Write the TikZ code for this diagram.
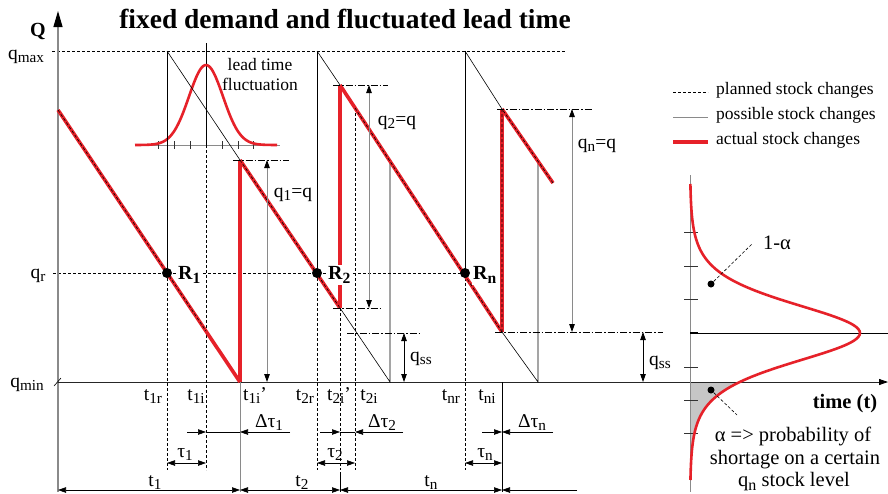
\documentclass[tikz,border=0pt]{standalone}
\usepackage{fontspec}
\setmainfont{Liberation Serif}
\usetikzlibrary{arrows.meta}
\definecolor{myred}{HTML}{E62129}
\definecolor{axgray}{HTML}{8A8A8A}
\newcommand\lo[1]{\raisebox{-0.2em}{\scalebox{0.78}{#1}}}
\begin{document}
\begin{tikzpicture}[x=1pt,y=-1pt,
  lbl/.style={font=\fontsize{19.5}{22}\selectfont, inner sep=0pt},
  sml/.style={font=\fontsize{17.5}{20}\selectfont, inner sep=0pt},
  bigt/.style={font=\fontsize{20.5}{23}\selectfont, inner sep=0pt},
  act/.style={draw=myred, line width=3.6pt},
  pln/.style={draw=black, line width=0.6pt, dash pattern=on 3pt off 2pt},
  thn/.style={draw=black, line width=0.6pt},
  gry/.style={draw=axgray, line width=0.9pt},
  ddot/.style={draw=black, line width=0.6pt, dash pattern=on 7pt off 2pt on 1.5pt off 2pt},
  arr/.style={-{Triangle[length=8pt,width=5.5pt,color=black]}},
  darr/.style={{Triangle[length=8pt,width=5.5pt,color=black]}-{Triangle[length=8pt,width=5.5pt,color=black]}},
  bdot/.style={circle, fill=black, minimum size=10pt, inner sep=0pt},
  sdot/.style={circle, fill=black, minimum size=7pt, inner sep=0pt},
]
\useasboundingbox (0,0) rectangle (888,493);
\fill[white] (0,0) rectangle (888,493);

% title
\node[anchor=base, inner sep=0pt, font=\fontsize{27.5}{30}\selectfont\bfseries] (title) at (345,28) {fixed demand and fluctuated lead time};

% reference lines
\draw[pln] (52,51) -- (565,51);
\draw[pln] (53,273) -- (465,273);

% axes
\draw[gry, line width=1.2pt, -{Triangle[length=16pt,width=9pt,color=black]}] (58,492) -- (58,11);
\draw[draw=black!85, line width=0.8pt, -{Triangle[length=9pt,width=6pt,color=black]}] (58,382) -- (888,382);
\coordinate (O) at (58,382);
\draw[thn] (54,386) -- (61,378);

\node[lbl, font=\fontsize{20}{22}\selectfont\bfseries, anchor=base] (Q) at (38,36) {Q};
\node[lbl, anchor=base] (qmax) at (26,59) {q\lo{max}};
\node[lbl, anchor=base] (qr) at (38,278) {q\lo{r}};
\node[lbl, anchor=base] (qmin) at (27,387) {q\lo{min}};

% lead time fluctuation
\draw[gry] (135,145) -- (280,145);
\foreach \tx in {158,174,190,222,238,253} \draw[black!80, line width=0.6pt] (\tx,141) -- (\tx,149);
\draw[thn] (206,43) -- (206,145);
\draw[myred, line width=2.6pt] plot[domain=135:277, samples=90] (\x, {145-80*exp(-((\x-206)/17)^2/2)});
\node[sml, anchor=base] (lt1) at (260,70) {lead time};
\node[sml, anchor=base] (lt2) at (260,90) {fluctuation};

% possible stock changes (thin)
\draw[thn] (167,51) -- (167,273);
\draw[thn] (167,51) -- (240,160);
\draw[thn] (317,51) -- (317,273);
\draw[thn] (317,51) -- (340,85);
\draw[thn] (340,308) -- (390,382) -- (390,161);
\draw[thn] (465,51) -- (465,273);
\draw[thn] (465,51) -- (502,109);
\draw[thn] (502,332) -- (538,382) -- (538,161);

% planned verticals
\draw[pln] (167,273) -- (167,470);
\draw[pln] (206,145) -- (206,470);
\draw[pln] (317,273) -- (317,470);
\draw[pln] (340,308) -- (340,470);
\draw[pln] (355,108) -- (355,470);
\draw[pln] (465,273) -- (465,470);

% solid verticals below axis
\draw[gry, line width=0.7pt] (240,382) -- (240,492);
\draw[thn] (340,472) -- (340,492);
\draw[thn] (502,382) -- (502,492);

% actual stock changes
\draw[act] (58,110) -- (240,382);
\draw[act] (240,382) -- (240,160);
\draw[act] (240,160) -- (340,308);
\draw[act] (340,308) -- (340,85);
\draw[act] (340,85) -- (502,332);
\draw[act] (502,332) -- (502,109);
\draw[act] (502,109) -- (553,183);

% planned overlays on actual
\draw[pln] (58,110) -- (206,331);
\draw[pln] (240,160) -- (340,308);
\draw[pln] (355,108) -- (502,332);
\draw[pln] (502,332) -- (502,109) -- (553,183);

% dash-dot level lines
\draw[ddot] (233,160) -- (289,160);
\draw[ddot] (333,85) -- (388,85);
\draw[ddot] (333,308) -- (382,308);
\draw[ddot] (347,333) -- (422,333);
\draw[ddot] (497,109) -- (592,109);
\draw[ddot] (495,332) -- (663,332);

% order quantity arrows
\draw[gry, darr] (267,160) -- (267,382);
\draw[gry, darr] (369,85) -- (369,308);
\draw[gry, darr] (572,109) -- (572,332);
\node[lbl, anchor=base] (q1) at (293,197) {q\lo{1}=q};
\node[lbl, anchor=base] (q2) at (397,125) {q\lo{2}=q};
\node[lbl, anchor=base] (qn) at (597,148) {q\lo{n}=q};

% safety stock
\draw[thn, line width=0.8pt, darr] (404,333) -- (404,382);
\node[lbl, anchor=base] (qss1) at (421,361) {q\lo{ss}};
\draw[thn, line width=0.8pt, darr] (643,332) -- (643,382);
\node[lbl, anchor=base] (qss2) at (660,365) {q\lo{ss}};

% time labels
\node[lbl, anchor=base] (t1r) at (153,400) {t\lo{1r}};
\node[lbl, anchor=base] (t1i) at (196,400) {t\lo{1i}};
\node[lbl, anchor=base] (t1ip) at (255,400) {t\lo{1i}’};
\node[lbl, anchor=base] (t2r) at (305,400) {t\lo{2r}};
\node[lbl, anchor=base] (t2ip) at (339,400) {t\lo{2i}’};
\node[lbl, anchor=base] (t2i) at (369,400) {t\lo{2i}};
\node[lbl, anchor=base] (tnr) at (451,400) {t\lo{nr}};
\node[lbl, anchor=base] (tni) at (487,400) {t\lo{ni}};

% delta tau
\draw[thn] (206,432) -- (240,432);
\draw[thn, arr] (187,432) -- (206,432);
\draw[thn, arr] (290,432) -- (240,432);
\node[lbl, anchor=base] (dt1) at (269,427) {Δτ\lo{1}};
\draw[thn] (340,432) -- (355,432);
\draw[thn, arr] (320,432) -- (340,432);
\draw[thn, arr] (403,432) -- (355,432);
\node[lbl, anchor=base] (dt2) at (382,427) {Δτ\lo{2}};
\draw[thn, arr] (482,432) -- (502,432);
\draw[thn, arr] (553,432) -- (502,432);
\node[lbl, anchor=base] (dtn) at (532,427) {Δτ\lo{n}};

% tau
\draw[thn, darr] (167,463) -- (206,463);
\node[lbl, anchor=base] (tau1) at (185,457) {τ\lo{1}};
\draw[thn, darr] (317,463) -- (355,463);
\node[lbl, anchor=base] (tau2) at (335,457) {τ\lo{2}};
\draw[thn, darr] (465,463) -- (502,463);
\node[lbl, anchor=base] (taun) at (485,457) {τ\lo{n}};

% cycle lengths
\draw[thn, darr] (58,490) -- (240,490);
\node[lbl, anchor=base] (t1) at (155,486) {t\lo{1}};
\draw[thn, darr] (240,490) -- (340,490);
\node[lbl, anchor=base] (t2) at (302,486) {t\lo{2}};
\draw[thn, darr] (340,490) -- (502,490);
\node[lbl, anchor=base] (tn) at (431,486) {t\lo{n}};
\draw[thn, arr] (577,490) -- (502,490);

% reorder points
\node[bdot] (R1) at (167,273) {};
\node[bdot] (R2) at (317,273) {};
\node[bdot] (Rn) at (465,273) {};
\node[lbl, font=\fontsize{20}{22}\selectfont\bfseries, anchor=west, fill=white, inner sep=1pt] (R1l) at (177,275) {R\lo{1}};
\node[lbl, font=\fontsize{20}{22}\selectfont\bfseries, anchor=west, fill=white, inner sep=1pt] (R2l) at (327,275) {R\lo{2}};
\node[lbl, font=\fontsize{20}{22}\selectfont\bfseries, anchor=west, fill=white, inner sep=1pt] (Rnl) at (472,275) {R\lo{n}};

% legend
\draw[pln] (673,92) -- (708,92);
\node[sml, anchor=west] (lg1) at (716,90) {planned stock changes};
\draw[gry, line width=0.8pt] (673,117) -- (708,117);
\node[sml, anchor=west] (lg2) at (716,115) {possible stock changes};
\draw[act] (673,142) -- (708,142);
\node[sml, anchor=west] (lg3) at (716,140) {actual stock changes};

% right distribution panel
\fill[gray!45] (690,383) -- plot[domain=383:480, samples=60, variable=\t] ({690+170/(cosh((\t-333)/40))^2}, \t) -- (690,480) -- cycle;
\draw[gry, line width=0.8pt] (690,175) -- (690,492);
\foreach \ty in {232,266,299,367,400,433} \draw[black!80, line width=0.7pt] (684,\ty) -- (698,\ty);
\draw[black, line width=1.2pt] (690,333) -- (698,333);
\draw[thn] (698,333) -- (888,333);
\draw[myred, line width=2.6pt] plot[domain=184:480, samples=150, variable=\t] ({690+170/(cosh((\t-333)/40))^2}, \t);
\node[sdot] (d1) at (711,284) {};
\node[sdot] (d2) at (711,390) {};
\coordinate (e1) at (752,244);
\coordinate (e2) at (737,415);
\draw[pln] (d1) -- (e1);
\draw[pln] (d2) -- (e2);
\node[bigt, anchor=base] (oma) at (777,249) {1-α};
\node[bigt, font=\fontsize{20.5}{23}\selectfont\bfseries, anchor=base] (time) at (845,408) {time (t)};
\node[bigt, anchor=base] (al1) at (793,441) {α => probability of};
\node[bigt, anchor=base] (al2) at (795,464) {shortage on a certain};
\node[bigt, anchor=base] (al3) at (794,486) {q\lo{n} stock level};
\end{tikzpicture}
\end{document}
